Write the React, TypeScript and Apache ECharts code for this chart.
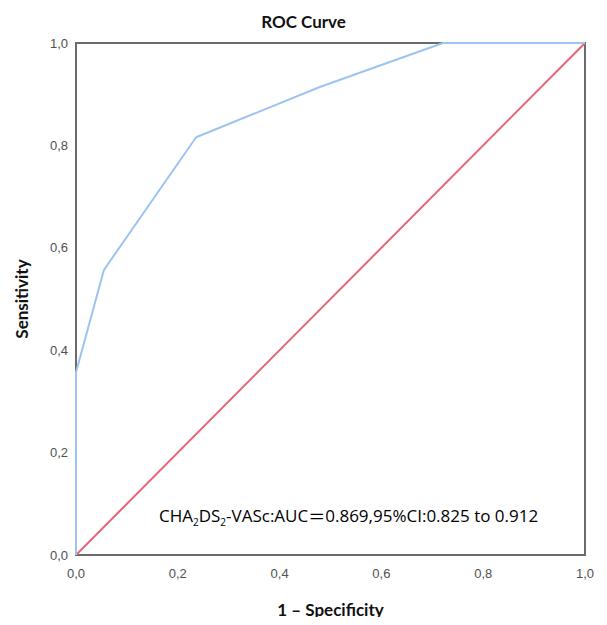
import React, { useEffect, useRef } from "react";
import * as echarts from "echarts";

const rocFpr = [0, 0, 0.055, 0.236, 0.479, 0.721, 1.0];
const rocTpr = [0, 0.357, 0.557, 0.816, 0.914, 1.0, 1.0];
const refLine = [0, 1];
const tickLabels = ["0,0", "0,2", "0,4", "0,6", "0,8", "1,0"];
const annotation = ["CHA", "2", "DS", "2", "-VASc:AUC", "＝", "0.869,95%CI:0.825 to 0.912"];

export default function App() {
  const ref = useRef<HTMLDivElement>(null);
  useEffect(() => {
    const chart = echarts.init(ref.current!, null, { renderer: "svg" });
    const fmt = (v: number) => tickLabels[Math.round(v * 5)] ?? "";
    chart.setOption({
      animation: false,
      backgroundColor: "#fff",
      title: {
        text: "ROC Curve",
        left: "center",
        top: 8,
        textStyle: { fontFamily: "Lato", fontWeight: "bold", fontSize: 17, color: "#111" },
      },
      grid: {
        left: 76, right: 22, top: 43, bottom: 70,
        show: true, borderColor: "#6b6b6b", borderWidth: 2, backgroundColor: "transparent",
      },
      xAxis: {
        type: "value", min: 0, max: 1, interval: 0.2,
        name: "1 – Specificity", nameLocation: "middle", nameGap: 46,
        nameTextStyle: { fontFamily: "Lato", fontWeight: "bold", fontSize: 17, color: "#111" },
        axisLine: { show: false }, axisTick: { show: false }, splitLine: { show: false },
        axisLabel: { formatter: fmt, fontFamily: "Liberation Sans", fontSize: 13, color: "#505050", margin: 12 },
      },
      yAxis: {
        type: "value", min: 0, max: 1, interval: 0.2,
        name: "Sensitivity", nameLocation: "middle", nameGap: 46,
        nameTextStyle: { fontFamily: "Lato", fontWeight: "bold", fontSize: 17, color: "#111" },
        axisLine: { show: false }, axisTick: { show: false }, splitLine: { show: false },
        axisLabel: { formatter: fmt, fontFamily: "Liberation Sans", fontSize: 13, color: "#505050", margin: 8 },
      },
      series: [
        {
          type: "line",
          data: refLine.map((v) => [v, v]),
          symbol: "none",
          lineStyle: { color: "#e8647c", width: 2 },
          z: 2,
        },
        {
          type: "line",
          data: rocFpr.map((x, i) => [x, rocTpr[i]]),
          symbol: "none",
          lineStyle: { color: "#9ec3f0", width: 2 },
          z: 3,
        },
      ],
      graphic: [
        {
          type: "text",
          left: 159,
          top: 507,
          style: {
            text:
              `{a|${annotation[0]}}{s|${annotation[1]}}{a|${annotation[2]}}{s|${annotation[3]}}` +
              `{a|${annotation[4]}}{e|${annotation[5]}}{a|${annotation[6]}}`,
            rich: {
              a: { fontFamily: "Open Sans", fontSize: 17, color: "#111", lineHeight: 22, verticalAlign: "middle" },
              e: { fontFamily: "Noto Sans CJK SC", fontSize: 17, color: "#111", lineHeight: 22, verticalAlign: "middle" },
              s: { fontFamily: "Open Sans", fontSize: 10, color: "#111", lineHeight: 10, verticalAlign: "bottom" },
            },
          },
        },
      ],
    });
    return () => chart.dispose();
  }, []);
  return <div ref={ref} style={{ width: 607, height: 625, margin: -8 }} />;
}
